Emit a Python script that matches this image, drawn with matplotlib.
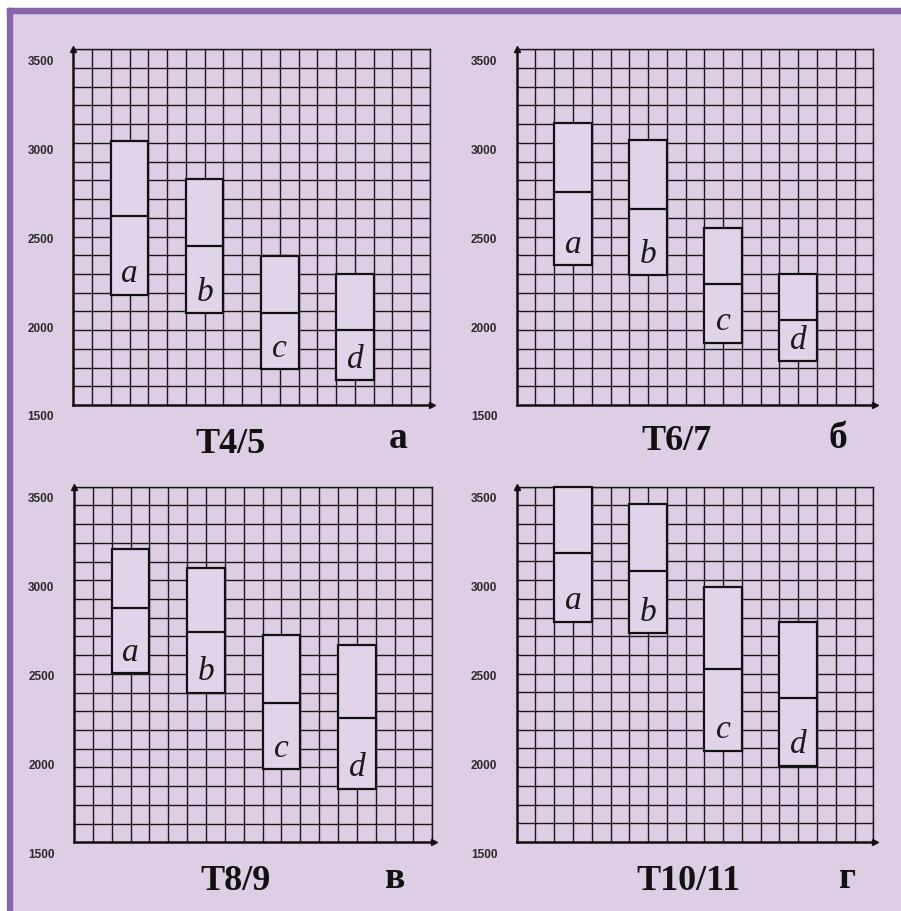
import numpy as np
import matplotlib
matplotlib.use("Agg")
import matplotlib.pyplot as plt
import matplotlib.transforms as mtransforms
from matplotlib.patches import Rectangle

# data
categories = ['a', 'b', 'c', 'd']
panel_titles = ['T4/5', 'T6/7', 'T8/9', 'T10/11']
panel_letters = ['а', 'б', 'в', 'г']
y_ticks = [1500, 2000, 2500, 3000, 3500]

high_45 = [2985, 2770, 2340, 2235]
mid_45 = [2560, 2395, 2020, 1920]
low_45 = [2120, 2015, 1700, 1640]

high_67 = [3085, 2990, 2495, 2235]
mid_67 = [2695, 2600, 2180, 1980]
low_67 = [2285, 2230, 1850, 1745]

high_89 = [3150, 3045, 2665, 2610]
mid_89 = [2815, 2680, 2285, 2200]
low_89 = [2450, 2340, 1910, 1800]

high_1011 = [3500, 3400, 2935, 2740]
mid_1011 = [3125, 3025, 2475, 2310]
low_1011 = [2740, 2675, 2015, 1930]

panels = [(high_45, mid_45, low_45), (high_67, mid_67, low_67),
          (high_89, mid_89, low_89), (high_1011, mid_1011, low_1011)]

bg = '#DDCDE5'
box_fill = '#E1D4EA'
purple = '#8A63A9'

W, H = 901, 911
fig = plt.figure(figsize=(W / 100, H / 100), dpi=100)
fig.patch.set_facecolor(bg)

# white margin + purple frame on top and left
fig.patches.append(Rectangle((0, 1 - 8 / H), 1, 8 / H, transform=fig.transFigure, color='white', zorder=0))
fig.patches.append(Rectangle((0, 0), 7 / W, 1, transform=fig.transFigure, color='white', zorder=0))
fig.patches.append(Rectangle((7 / W, 1 - 13 / H), 1, 5 / H, transform=fig.transFigure, color=purple, zorder=1))
fig.patches.append(Rectangle((7 / W, 0), 5 / W, 1 - 8 / H, transform=fig.transFigure, color=purple, zorder=1))

# axes boxes in pixels: left, top, right, bottom
boxes_px = [(73.3, 49.3, 430, 405), (516.7, 49.3, 873.3, 405),
            (74, 486.7, 432.3, 842.3), (516.7, 486.7, 873.3, 842)]
title_pos = [(230, 453), (676, 450), (235.5, 890), (688, 890)]
letter_pos = [(398, 448), (838, 448), (395, 888), (848, 888)]

ncol = 19
label_shift = mtransforms.ScaledTranslation(0, -11 / 100, fig.dpi_scale_trans)

for k, (high, mid, low) in enumerate(panels):
    l, t, r, b = boxes_px[k]
    ax = fig.add_axes([l / W, 1 - b / H, (r - l) / W, (b - t) / H])
    ax.set_facecolor(bg)
    ax.set_xlim(0, ncol)
    ax.set_ylim(y_ticks[0], y_ticks[-1])

    for gx in range(1, ncol + 1):
        ax.axvline(gx, color='#1a1a1a', lw=1.0, zorder=1)
    for gy in np.linspace(y_ticks[0], y_ticks[-1], ncol + 1)[1:]:
        ax.axhline(gy, color='#1a1a1a', lw=1.0, zorder=1)

    xs = [3 + 4 * i for i in range(len(categories))]
    heights = [h - lo for h, lo in zip(high, low)]
    ax.bar(xs, heights, bottom=low, width=2, facecolor=box_fill,
           edgecolor='#111111', linewidth=1.6, zorder=3, clip_on=False)
    ax.hlines(mid, [x - 1 for x in xs], [x + 1 for x in xs], color='#111111', lw=1.6, zorder=4)
    for x, lo, cat in zip(xs, low, categories):
        ax.annotate(cat, (x, lo), xytext=(0, 15), textcoords='offset points',
                    ha='center', va='center', fontsize=24, style='italic',
                    family='Liberation Serif', color='#1a1a1a', zorder=5)

    for side in ['top', 'right']:
        ax.spines[side].set_linewidth(1.0)
        ax.spines[side].set_color('#1a1a1a')
    for side in ['left', 'bottom']:
        ax.spines[side].set_linewidth(1.8)
        ax.spines[side].set_color('#111111')
    ax.plot(0, 1, marker='^', ms=4, color='#111111', transform=ax.transAxes, clip_on=False, zorder=6)
    ax.plot(1.005, 0, marker='>', ms=4, color='#111111', transform=ax.transAxes, clip_on=False, zorder=6)

    ax.set_xticks([])
    ax.set_yticks(y_ticks)
    ax.set_yticklabels([str(v) for v in y_ticks], fontsize=8.5, fontweight='bold',
                       family='Liberation Sans', color='#2a2a2a')
    ax.tick_params(axis='y', length=0, pad=14)
    for lbl in ax.get_yticklabels():
        lbl.set_transform(lbl.get_transform() + label_shift)

    tx, ty = title_pos[k]
    fig.text(tx / W, 1 - ty / H, panel_titles[k], ha='center', va='baseline',
             fontsize=26, fontweight='bold', family='Liberation Serif', color='#111111')
    lx, ly = letter_pos[k]
    fig.text(lx / W, 1 - ly / H, panel_letters[k], ha='center', va='baseline',
             fontsize=27, fontweight='bold', family='Liberation Serif', color='#111111')

fig.savefig('out.png', dpi=100, facecolor=fig.get_facecolor())
